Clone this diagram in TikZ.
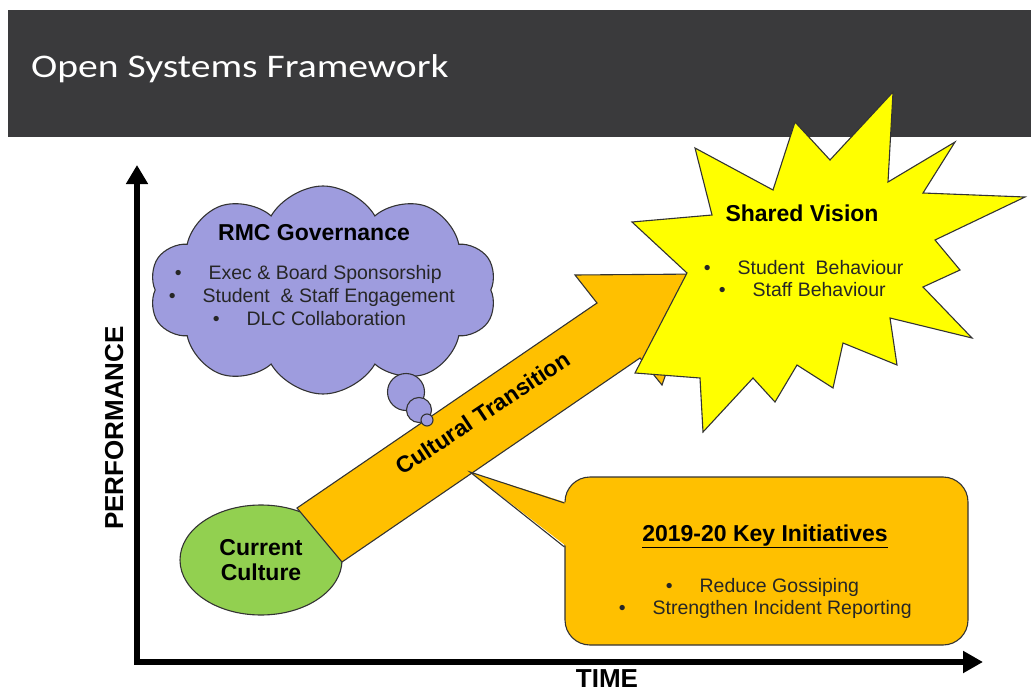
\documentclass[tikz,border=0pt]{standalone}
\usepackage{fontspec}
\setmainfont{Liberation Sans}
\newfontfamily\titlefont[FakeStretch=1.2]{Carlito}
\usetikzlibrary{arrows.meta, calc, shapes.geometric, shapes.symbols}

\definecolor{barGray}{RGB}{58,58,60}
\definecolor{cloudBlue}{RGB}{158,156,222}
\definecolor{transOrange}{RGB}{255,192,0}
\definecolor{cultureGreen}{RGB}{146,208,80}
\definecolor{visionYellow}{RGB}{255,255,0}

% bullet line with a tab after the bullet
\newcommand{\bitem}[1]{\textbullet\hspace{27pt}#1}

\begin{document}
\begin{tikzpicture}[x=1pt, y=-1pt,
    outline/.style={draw=black!80, line width=1.1pt},
    heading/.style={font=\fontsize{23}{25}\selectfont\bfseries, anchor=base, inner sep=0pt},
    bodytext/.style={font=\fontsize{19.5}{23}\selectfont, text=black!85, anchor=base west, inner sep=0pt},
    axislabel/.style={font=\fontsize{26}{28}\selectfont\bfseries, anchor=base, inner sep=0pt}]
\useasboundingbox (0,0) rectangle (1031,690);

% Title bar
\fill[barGray] (8,10) rectangle (1031,137);
\node[anchor=base west, inner sep=0pt, text=white, font=\titlefont\fontsize{33}{36}\selectfont] (title) at (31,78) {Open Systems Framework};

% Axes
\coordinate (origin) at (137,662);
\coordinate (ytop) at (137,165);
\coordinate (xend) at (983,662);
\draw[line width=6pt, {Triangle[width=21pt,length=19pt]}-{Triangle[width=21pt,length=20pt]}] (ytop) -- (origin) -- (xend);
\node[axislabel, rotate=90] (perf) at (123,428) {PERFORMANCE};
\node[axislabel] (time) at (607,687) {TIME};

% Current culture
\node[ellipse, outline, fill=cultureGreen, minimum width=162pt, minimum height=110pt,
      align=center, font=\fontsize{23}{25}\selectfont\bfseries] (current) at (261,560) {Current\\Culture};

% Transition arrow
\draw[outline, fill=transOrange] (297,508) -- (597,303) -- (575,275) -- (701,274)
    -- (662,385) -- (640,358) -- (342,562) -- cycle;
\node[font=\fontsize{23}{25}\selectfont\bfseries, rotate=33.5] (transition) at (483,413) {Cultural Transition};

% Governance cloud
\node[cloud, cloud puffs=10, cloud puff arc=120, aspect=1.67, outline, fill=cloudBlue,
      minimum width=347pt, minimum height=208pt] (governance) at (323,290) {};
\node[circle, outline, fill=cloudBlue, minimum size=37pt, inner sep=0pt] (bub1) at (406,392) {};
\node[circle, outline, fill=cloudBlue, minimum size=25pt, inner sep=0pt] (bub2) at (419,410) {};
\node[circle, outline, fill=cloudBlue, minimum size=12pt, inner sep=0pt] (bub3) at (427,420) {};
\node[heading] (govhead) at (314,240) {RMC Governance};
\node[bodytext] (gov1) at (174.6,279) {\bitem{Exec \& Board Sponsorship}};
\node[bodytext] (gov2) at (168.6,302) {\bitem{Student\ \ \& Staff Engagement}};
\node[bodytext] (gov3) at (212.6,325) {\bitem{DLC Collaboration}};

% Shared vision burst
\draw[outline, fill=visionYellow] (893,92) -- (888,182) -- (955,142) -- (923,193) -- (1025,197)
    -- (935,240) -- (960,270) -- (923,287) -- (972,338) -- (890,318) -- (897,365)
    -- (843,343) -- (833,388) -- (797,365) -- (775,402) -- (753,378) -- (703,432)
    -- (700,378) -- (635,373) -- (687,273) -- (632,222) -- (712,215) -- (695,148)
    -- (773,190) -- (795,122) -- (830,160) -- cycle;
\node[heading] (svhead) at (802,221) {Shared Vision};
\node[bodytext] (sv1) at (703.6,274) {\bitem{Student\ \ Behaviour}};
\node[bodytext] (sv2) at (718.6,296) {\bitem{Staff Behaviour}};

% Key initiatives callout
\node[rectangle, rounded corners=25pt, outline, fill=transOrange,
      minimum width=403pt, minimum height=168pt] (initiatives) at (766.5,561) {};
\coordinate (tip) at (470,472);
\fill[transOrange] (tip) -- ($(initiatives.west)+(3,-58)$) -- ($(initiatives.west)+(3,-14)$) -- cycle;
\draw[outline] ($(initiatives.west)+(0,-58)$) -- (tip) -- ($(initiatives.west)+(0,-14)$);
\node[heading] (kihead) at (765,541) {\underline{2019-20 Key Initiatives}};
\node[bodytext] (ki1) at (665.6,592) {\bitem{Reduce Gossiping}};
\node[bodytext] (ki2) at (618.6,614) {\bitem{Strengthen Incident Reporting}};

\end{tikzpicture}
\end{document}
